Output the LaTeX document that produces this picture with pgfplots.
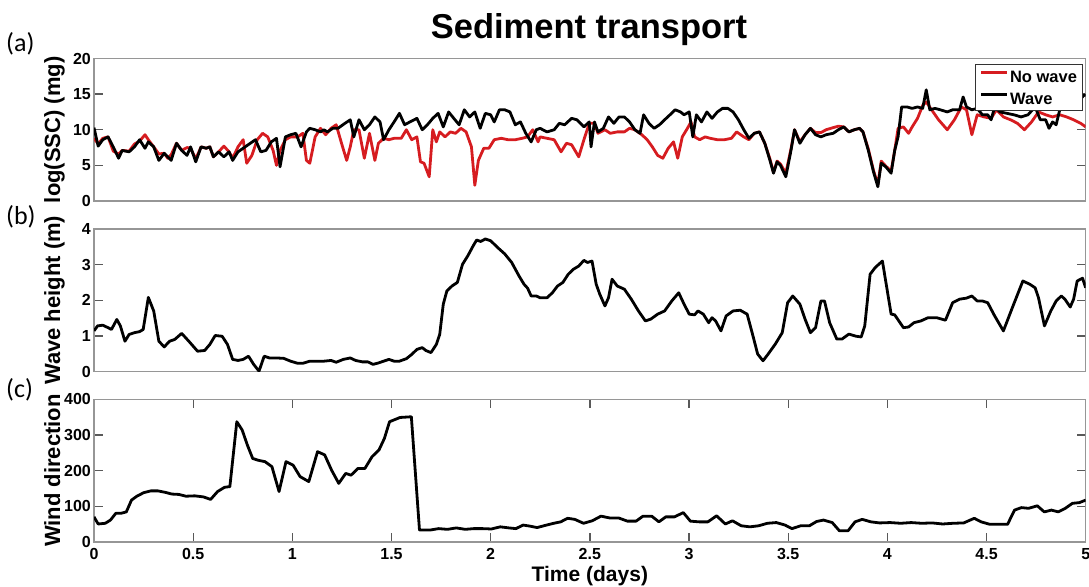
\documentclass[border=0pt]{standalone}
\usepackage{pgfplots}
\pgfplotsset{compat=1.18}
\usepackage{fontspec}
\setmainfont{Liberation Sans}
\newfontfamily\panelfont{Carlito}
\definecolor{nowave}{RGB}{214,28,32}
\definecolor{framegray}{RGB}{150,150,150}

\pgfplotsset{
  panel/.style={
    scale only axis, width=991.7pt, height=142.5pt,
    anchor=north west, xmin=0, xmax=5,
    axis line style={draw=framegray, line width=1.4pt},
    tick style={draw=black!65, line width=1.3pt},
    tick align=inside, major tick length=9pt,
    ticklabel style={font=\fontsize{16}{16}\selectfont\bfseries},
    /pgf/number format/assume math mode=true,
    yticklabel style={inner sep=0pt, xshift=-3pt},
    xticklabel style={inner sep=0pt, yshift=-6pt},
    ylabel style={font=\fontsize{22}{22}\selectfont\bfseries, inner sep=0pt,
      at={(axis description cs:0,0.5)}, anchor=base, yshift=34pt},
    every axis plot/.append style={line width=2.8pt, line join=round, mark=none},
    clip=true,
  }
}

\begin{document}
\begin{tikzpicture}
\path[use as bounding box] (0pt,0pt) rectangle (1089pt,-586pt);

\node[font=\fontsize{34.5}{34.5}\selectfont\bfseries, anchor=base, inner sep=0pt] at (589pt,-39pt) {Sediment transport};
\node[font=\panelfont\fontsize{26}{26}\selectfont, anchor=base west, inner sep=0pt] at (6pt,-52pt) {(a)};
\node[font=\panelfont\fontsize{26}{26}\selectfont, anchor=base west, inner sep=0pt] at (6pt,-224pt) {(b)};
\node[font=\panelfont\fontsize{26}{26}\selectfont, anchor=base west, inner sep=0pt] at (6pt,-397pt) {(c)};

% (a) suspended sediment, with and without waves
\begin{axis}[panel, at={(94pt,-58.5pt)},
  ymin=0, ymax=20, ytick={0,5,10,15,20}, xtick=\empty,
  ylabel={log(SSC) (mg)},
  legend style={at={(axis description cs:1,1)}, anchor=north east,
    xshift=-2.7pt, yshift=-5.5pt, draw=black!80, line width=1pt, fill=white,
    font=\fontsize{16.5}{16.5}\selectfont\bfseries,
    inner xsep=4pt, inner ysep=4pt, row sep=5.7pt,
    nodes={inner xsep=1.5pt, inner ysep=2pt, text height=12pt, text depth=0pt}},
  legend cell align=left,
  legend image code/.code={\draw[#1] (0pt,4pt) -- (26pt,4pt);},
]
\addplot[nowave] table {
0.000 8.8
0.021 8.0
0.044 8.8
0.071 9.0
0.097 7.0
0.124 6.6
0.142 7.1
0.177 7.0
0.204 8.0
0.230 8.4
0.257 9.3
0.274 8.6
0.301 7.6
0.327 6.6
0.354 6.7
0.372 6.0
0.389 6.5
0.416 8.1
0.442 7.1
0.469 7.5
0.487 7.4
0.513 5.9
0.540 7.6
0.566 7.4
0.584 7.6
0.602 6.2
0.628 6.9
0.655 7.7
0.681 6.9
0.699 6.0
0.726 7.6
0.752 8.6
0.770 5.3
0.796 6.4
0.823 8.6
0.850 9.5
0.876 9.0
0.903 7.1
0.920 5.0
0.938 7.1
0.965 8.6
0.991 9.0
1.027 9.0
1.053 9.5
1.071 5.7
1.088 5.3
1.115 9.0
1.142 10.2
1.168 9.3
1.195 10.2
1.221 10.7
1.248 8.1
1.274 5.7
1.292 7.6
1.310 10.0
1.336 10.0
1.363 6.0
1.389 9.5
1.416 5.7
1.434 8.1
1.460 8.8
1.487 8.6
1.513 8.8
1.549 8.8
1.575 10.0
1.602 8.6
1.628 9.0
1.646 5.5
1.664 5.3
1.690 3.4
1.708 10.0
1.726 8.3
1.743 9.7
1.770 9.0
1.796 9.7
1.823 9.5
1.850 10.2
1.876 9.7
1.903 7.6
1.920 2.2
1.938 5.7
1.965 7.4
1.991 7.4
2.018 8.6
2.053 8.8
2.088 8.6
2.124 8.6
2.159 8.8
2.186 9.0
2.212 10.0
2.239 8.3
2.249 9.0
2.284 8.8
2.320 8.6
2.355 6.9
2.382 8.1
2.408 7.9
2.444 6.2
2.470 8.6
2.497 10.9
2.523 10.9
2.541 9.5
2.576 10.0
2.603 9.5
2.638 9.7
2.674 9.7
2.700 10.2
2.727 10.0
2.762 9.3
2.789 8.6
2.815 7.6
2.842 6.4
2.868 6.0
2.895 7.4
2.922 8.3
2.943 6.0
2.966 9.0
2.992 10.2
3.010 11.1
3.028 9.0
3.054 8.6
3.081 9.0
3.107 8.8
3.143 8.6
3.178 8.6
3.214 8.8
3.240 9.7
3.276 9.0
3.302 8.6
3.329 9.5
3.355 9.7
3.382 8.1
3.408 5.9
3.426 4.0
3.444 5.6
3.461 5.2
3.488 3.9
3.514 7.3
3.532 10.0
3.559 8.3
3.585 9.3
3.612 10.2
3.638 9.6
3.665 9.6
3.691 10.0
3.727 10.3
3.753 10.5
3.780 10.4
3.806 9.7
3.833 10.0
3.860 10.2
3.877 9.7
3.904 7.3
3.930 4.3
3.952 2.3
3.969 5.6
3.992 4.9
4.019 4.2
4.037 7.1
4.054 10.2
4.081 10.4
4.107 9.5
4.125 10.4
4.152 11.6
4.178 13.4
4.196 13.9
4.223 12.8
4.258 11.4
4.302 10.0
4.338 11.4
4.373 13.2
4.399 12.8
4.426 9.3
4.453 12.1
4.488 11.8
4.523 11.6
4.550 12.8
4.585 11.8
4.621 11.4
4.656 10.9
4.691 10.0
4.727 11.1
4.762 12.5
4.798 12.1
4.833 11.8
4.869 12.1
4.904 11.8
4.939 11.4
4.975 10.9
5.000 10.4
};
\addlegendentry{No wave}
\addplot[black] table {
0.000 10.3
0.021 7.7
0.044 8.6
0.071 9.0
0.097 7.6
0.124 6.0
0.142 7.1
0.177 6.9
0.204 7.6
0.230 8.6
0.257 7.4
0.274 8.3
0.301 7.6
0.327 5.7
0.354 6.7
0.372 6.2
0.389 5.7
0.416 8.1
0.442 7.1
0.469 6.4
0.487 7.6
0.513 5.5
0.540 7.6
0.566 7.4
0.584 7.6
0.602 6.2
0.628 6.9
0.655 6.2
0.681 6.9
0.699 5.7
0.726 6.9
0.752 7.4
0.788 8.1
0.814 8.6
0.841 6.9
0.867 7.1
0.894 8.3
0.920 8.8
0.938 4.8
0.965 9.0
0.991 9.3
1.018 9.5
1.044 7.6
1.071 9.7
1.088 10.2
1.115 10.0
1.142 9.7
1.159 10.0
1.177 9.7
1.204 10.2
1.230 10.2
1.265 10.9
1.292 11.4
1.310 9.0
1.336 11.4
1.363 10.0
1.389 10.7
1.416 11.8
1.442 11.1
1.460 8.6
1.487 10.0
1.513 11.1
1.540 12.3
1.566 10.7
1.593 11.1
1.628 11.6
1.655 10.0
1.681 10.7
1.708 11.6
1.735 12.3
1.761 10.4
1.788 12.5
1.814 11.6
1.841 10.7
1.867 12.8
1.894 11.8
1.920 12.5
1.947 10.2
1.973 12.3
2.000 12.1
2.018 11.1
2.044 12.8
2.071 12.8
2.097 12.5
2.124 10.7
2.150 11.1
2.177 9.5
2.204 8.3
2.230 10.0
2.249 10.2
2.284 9.7
2.320 10.0
2.346 10.9
2.373 10.7
2.408 11.6
2.435 11.4
2.470 10.4
2.497 11.1
2.506 7.6
2.523 11.1
2.541 9.7
2.568 10.2
2.594 11.8
2.621 10.9
2.647 11.8
2.674 11.8
2.700 11.1
2.727 10.0
2.753 9.5
2.771 12.1
2.798 10.9
2.824 10.2
2.851 10.7
2.877 11.4
2.904 12.1
2.930 12.8
2.957 12.5
2.975 12.1
3.001 12.5
3.019 9.0
3.037 12.1
3.063 11.1
3.090 12.5
3.116 11.6
3.143 12.5
3.169 13.0
3.196 13.0
3.222 12.5
3.249 11.4
3.276 10.0
3.302 8.8
3.329 9.5
3.355 9.7
3.382 8.1
3.408 5.7
3.426 3.9
3.444 5.5
3.461 5.0
3.488 3.4
3.514 7.1
3.532 10.0
3.559 8.1
3.585 9.3
3.612 10.2
3.638 9.3
3.665 9.0
3.691 9.3
3.727 9.5
3.753 10.0
3.780 10.4
3.806 9.7
3.833 10.0
3.860 10.2
3.877 9.7
3.904 7.1
3.930 4.1
3.952 2.0
3.969 5.3
3.992 4.8
4.019 3.9
4.037 7.1
4.054 9.0
4.072 13.2
4.099 13.2
4.125 13.0
4.152 13.2
4.178 13.0
4.196 15.6
4.214 12.8
4.240 13.0
4.267 12.8
4.302 12.5
4.329 12.8
4.364 12.8
4.382 14.6
4.399 13.2
4.426 12.8
4.453 13.0
4.479 12.1
4.506 12.1
4.523 11.4
4.541 13.2
4.568 12.5
4.603 12.3
4.638 12.1
4.674 11.8
4.709 12.1
4.745 13.2
4.771 11.4
4.798 11.4
4.815 10.2
4.833 11.1
4.851 10.7
4.869 12.8
4.886 14.2
4.922 15.5
4.966 14.0
4.992 14.9
5.000 14.8
};
\addlegendentry{Wave}
\end{axis}

% (b) significant wave height
\begin{axis}[panel, at={(94pt,-229pt)},
  ymin=0, ymax=4, ytick={0,1,2,3,4}, xtick=\empty,
  ylabel={Wave height (m)},
]
\addplot[black] table {
0.000 1.14
0.018 1.28
0.044 1.30
0.071 1.23
0.088 1.18
0.115 1.46
0.133 1.28
0.156 0.85
0.177 1.04
0.204 1.09
0.230 1.12
0.248 1.18
0.274 2.08
0.301 1.70
0.327 0.85
0.354 0.69
0.381 0.85
0.407 0.90
0.442 1.07
0.478 0.85
0.522 0.57
0.558 0.59
0.584 0.76
0.611 1.01
0.646 0.99
0.673 0.76
0.699 0.34
0.726 0.31
0.752 0.34
0.779 0.43
0.805 0.20
0.832 0.01
0.858 0.43
0.885 0.38
0.920 0.38
0.956 0.37
0.991 0.29
1.027 0.23
1.053 0.23
1.088 0.29
1.124 0.29
1.159 0.29
1.195 0.31
1.221 0.26
1.257 0.34
1.292 0.38
1.319 0.31
1.354 0.27
1.381 0.27
1.407 0.20
1.434 0.24
1.460 0.29
1.487 0.34
1.513 0.29
1.540 0.29
1.575 0.36
1.602 0.48
1.628 0.62
1.655 0.67
1.673 0.59
1.699 0.53
1.726 0.76
1.743 1.04
1.761 1.89
1.779 2.26
1.805 2.40
1.832 2.50
1.858 3.01
1.885 3.25
1.912 3.53
1.929 3.69
1.950 3.65
1.973 3.72
2.000 3.67
2.035 3.48
2.071 3.30
2.106 3.06
2.142 2.69
2.168 2.45
2.186 2.34
2.204 2.12
2.230 2.12
2.249 2.07
2.284 2.07
2.311 2.21
2.337 2.40
2.364 2.50
2.391 2.73
2.417 2.87
2.444 2.96
2.470 3.12
2.488 3.06
2.511 3.10
2.532 2.45
2.550 2.17
2.576 1.84
2.594 2.07
2.612 2.59
2.638 2.40
2.674 2.31
2.709 2.03
2.745 1.70
2.780 1.42
2.807 1.47
2.842 1.61
2.877 1.70
2.913 1.98
2.948 2.21
2.975 1.89
3.001 1.61
3.028 1.59
3.045 1.70
3.072 1.61
3.099 1.37
3.116 1.51
3.134 1.42
3.161 1.14
3.187 1.56
3.222 1.70
3.258 1.72
3.293 1.61
3.320 1.05
3.346 0.49
3.373 0.30
3.399 0.49
3.435 0.77
3.470 1.09
3.497 1.93
3.523 2.12
3.559 1.89
3.585 1.47
3.612 1.09
3.638 1.23
3.665 1.98
3.683 1.98
3.709 1.37
3.745 0.91
3.771 0.91
3.806 1.05
3.842 0.99
3.868 0.97
3.886 1.28
3.913 2.73
3.939 2.92
3.975 3.10
4.019 1.61
4.037 1.59
4.081 1.23
4.107 1.25
4.134 1.37
4.169 1.42
4.205 1.51
4.249 1.51
4.293 1.44
4.329 1.93
4.364 2.03
4.399 2.06
4.426 2.12
4.453 1.98
4.479 1.98
4.506 1.93
4.541 1.56
4.585 1.14
4.630 1.79
4.683 2.54
4.718 2.45
4.745 2.35
4.762 2.07
4.792 1.28
4.824 1.70
4.851 1.98
4.877 2.12
4.895 2.03
4.922 1.81
4.939 2.03
4.957 2.54
4.984 2.62
5.000 2.35
};
\end{axis}

% (c) wind direction
\begin{axis}[panel, at={(94pt,-399.3pt)},
  ymin=0, ymax=400, ytick={0,100,200,300,400},
  xtick={0,0.5,1,1.5,2,2.5,3,3.5,4,4.5,5},
  xticklabels={0,0.5,1,1.5,2,2.5,3,3.5,4,4.5,5},
  ylabel={Wind direction},
  xlabel={Time (days)},
  xlabel style={font=\fontsize{21}{21}\selectfont\bfseries, inner sep=0pt,
    at={(axis description cs:0.5,0)}, anchor=center, yshift=-34pt},
]
\addplot[black] table {
0.000 70
0.021 50
0.057 52
0.083 61
0.110 80
0.136 80
0.163 84
0.189 117
0.216 128
0.251 138
0.287 143
0.322 143
0.358 139
0.393 134
0.428 133
0.464 128
0.508 129
0.552 126
0.588 119
0.623 141
0.658 153
0.685 155
0.720 337
0.747 314
0.773 272
0.800 234
0.827 229
0.862 225
0.897 211
0.933 141
0.968 225
1.004 215
1.039 183
1.083 169
1.127 253
1.163 244
1.198 201
1.234 164
1.269 192
1.296 187
1.331 206
1.366 206
1.402 239
1.437 258
1.464 290
1.490 337
1.543 349
1.600 351
1.641 33
1.694 33
1.738 37
1.782 35
1.827 39
1.871 35
1.915 37
1.959 37
2.004 36
2.048 42
2.092 39
2.127 37
2.163 47
2.198 44
2.234 40
2.282 47
2.318 52
2.353 56
2.388 66
2.424 63
2.468 52
2.512 59
2.556 72
2.600 67
2.645 67
2.689 58
2.733 58
2.768 72
2.812 72
2.848 56
2.883 70
2.927 70
2.971 82
3.007 58
3.051 56
3.095 56
3.139 73
3.183 50
3.219 59
3.263 45
3.307 42
3.351 45
3.395 52
3.440 54
3.484 47
3.519 37
3.563 45
3.607 45
3.643 57
3.678 61
3.722 54
3.758 31
3.802 31
3.837 56
3.873 63
3.917 56
3.961 53
4.014 54
4.067 52
4.120 54
4.173 52
4.226 53
4.279 50
4.332 52
4.385 53
4.438 66
4.473 56
4.517 49
4.561 49
4.606 49
4.641 89
4.676 96
4.712 94
4.756 101
4.791 84
4.827 89
4.862 84
4.897 94
4.933 108
4.968 110
5.000 117
};
\end{axis}
\end{tikzpicture}
\end{document}
